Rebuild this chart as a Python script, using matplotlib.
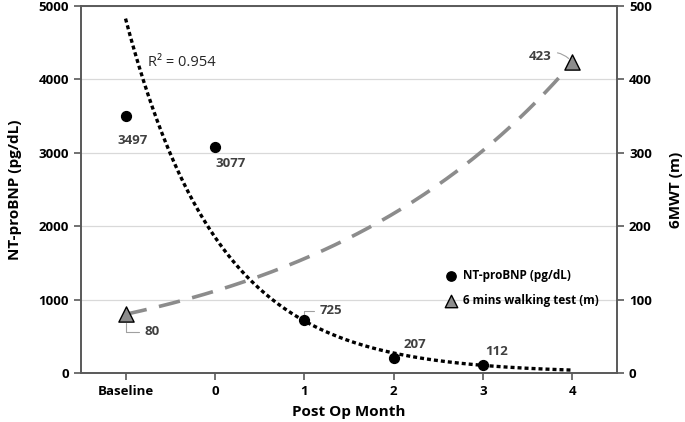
import numpy as np
import matplotlib
matplotlib.use('Agg')
import matplotlib.pyplot as plt

plt.rcParams['font.family'] = ['Open Sans', 'DejaVu Sans']

# data
categories = ['Baseline', '0', '1', '2', '3', '4']
bnp_x = [0, 1, 2, 3, 4]
bnp_values = [3497, 3077, 725, 207, 112]
walk_x = [0, 5]
walk_values = [80, 423]
r2_text = 'R² = 0.954'

label_col = '#404040'

fig = plt.figure(figsize=(6.85, 4.22), dpi=100)
ax = fig.add_axes([0.118, 0.116, 0.783, 0.870])
ax2 = ax.twinx()

# exponential trendlines (log-linear fit, as Excel does)
xs = np.linspace(0, 5, 200)
b1, a1 = np.polyfit(bnp_x, np.log(bnp_values), 1)
ax.plot(xs, np.exp(a1 + b1 * xs), color='black', lw=2.4,
        linestyle=(0, (1.2, 0.9)), zorder=3)
b2, a2 = np.polyfit(walk_x, np.log(walk_values), 1)
ax2.plot(xs, np.exp(a2 + b2 * xs), color='#8c8c8c', lw=2.6,
         linestyle=(0, (6, 3.5)), zorder=2)

# points
ax.scatter(bnp_x, bnp_values, s=50, color='black', zorder=4)
ax2.scatter(walk_x, walk_values, s=120, marker='^', color='#8c8c8c',
            edgecolor='black', linewidth=1, zorder=4)

# data labels
lbl = dict(color=label_col, fontsize=9.5, fontweight='bold')
ax.annotate(str(bnp_values[0]), (bnp_x[0], bnp_values[0]), xytext=(5, -20),
            textcoords='offset points', ha='center', **lbl)
ax.annotate(str(bnp_values[1]), (bnp_x[1], bnp_values[1]), xytext=(11, -14),
            textcoords='offset points', ha='center', **lbl)
ax.annotate(str(bnp_values[2]), (bnp_x[2], bnp_values[2]), xytext=(19, 4),
            textcoords='offset points', ha='center', **lbl,
            arrowprops=dict(arrowstyle='-', color='#a0a0a0', lw=0.8,
                            connectionstyle='angle,angleA=0,angleB=90,rad=0',
                            shrinkA=2, shrinkB=3))
ax.annotate(str(bnp_values[3]), (bnp_x[3], bnp_values[3]), xytext=(15, 7),
            textcoords='offset points', ha='center', **lbl)
ax.annotate(str(bnp_values[4]), (bnp_x[4], bnp_values[4]), xytext=(10, 7),
            textcoords='offset points', ha='center', **lbl)
ax2.annotate(str(walk_values[1]), (walk_x[1], walk_values[1]), xytext=(-23, 2),
             textcoords='offset points', ha='center', **lbl,
             arrowprops=dict(arrowstyle='-', color='#a0a0a0', lw=0.8,
                             connectionstyle='arc3,rad=-0.4',
                             shrinkA=2, shrinkB=4))
ax2.annotate(str(walk_values[0]), (walk_x[0], walk_values[0]), xytext=(19, -15),
             textcoords='offset points', ha='center', **lbl,
             arrowprops=dict(arrowstyle='-', color='#a0a0a0', lw=0.8,
                             connectionstyle='angle,angleA=0,angleB=90,rad=0',
                             shrinkA=2, shrinkB=6))

ax.text(0.25, 4180, r2_text, fontsize=10.5, color='#262626')

# axes
ax.set_xlim(-0.5, 5.5)
ax.set_xticks(range(len(categories)))
ax.set_xticklabels(categories)
ax.set_ylim(0, 5000)
ax.set_yticks(range(0, 5001, 1000))
ax2.set_ylim(0, 500)
ax2.set_yticks(range(0, 501, 100))
ax.grid(axis='y', color='#d9d9d9', lw=0.9)
ax.set_axisbelow(True)

for a in (ax, ax2):
    for s in a.spines.values():
        s.set_color('#595959')
        s.set_linewidth(1.2)
    a.tick_params(length=5, width=1.2, color='#595959', labelsize=9.5,
                  labelcolor='black')
    for t in a.get_xticklabels() + a.get_yticklabels():
        t.set_fontweight('bold')

ax.set_xlabel('Post Op Month', fontsize=11, fontweight='bold', labelpad=5)
ax.set_ylabel('NT-proBNP (pg/dL)', fontsize=11, fontweight='bold')
ax.yaxis.set_label_coords(-0.11, 0.5)
ax2.set_ylabel('6MWT (m)', fontsize=11, fontweight='bold')
ax2.yaxis.set_label_coords(1.097, 0.5)

# legend
h1 = ax.scatter([], [], s=45, color='black', label='NT-proBNP (pg/dL)')
h2 = ax.scatter([], [], s=80, marker='^', color='#8c8c8c', edgecolor='black',
                linewidth=1, label='6 mins walking test (m)')
leg = ax2.legend(handles=[h1, h2], loc='upper left', bbox_to_anchor=(0.66, 0.295),
                 frameon=False, handletextpad=0.0, labelspacing=0.95,
                 prop={'weight': 'bold', 'size': 8.5}, borderaxespad=0)

fig.savefig('out.png', dpi=100)
